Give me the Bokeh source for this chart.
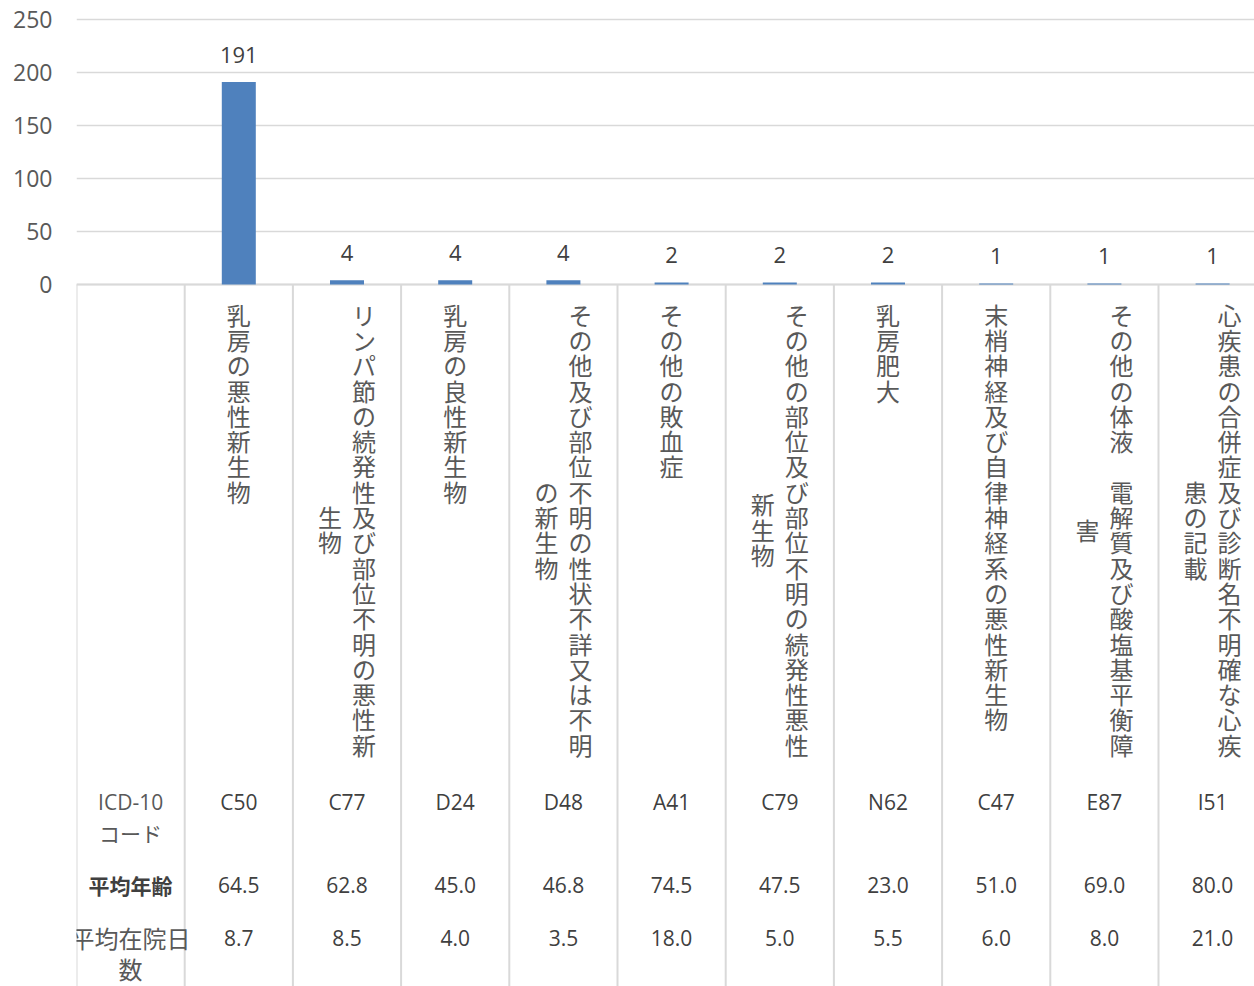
from bokeh.plotting import figure
from bokeh.models import Range1d, FixedTicker, ColumnDataSource
from bokeh.embed import file_html
from bokeh.resources import INLINE
from bokeh.core.properties import value

# ---------------- data ----------------
codes = ["C50", "C77", "D24", "D48", "A41", "C79", "N62", "C47", "E87", "I51"]
counts = [191, 4, 4, 4, 2, 2, 2, 1, 1, 1]
avg_age = [64.5, 62.8, 45.0, 46.8, 74.5, 47.5, 23.0, 51.0, 69.0, 80.0]
avg_days = [8.7, 8.5, 4.0, 3.5, 18.0, 5.0, 5.5, 6.0, 8.0, 21.0]
names = [
    "乳房の悪性新生物",
    "リンパ節の続発性及び部位不明の悪性新生物",
    "乳房の良性新生物",
    "その他及び部位不明の性状不詳又は不明の新生物",
    "その他の敗血症",
    "その他の部位及び部位不明の続発性悪性新生物",
    "乳房肥大",
    "末梢神経及び自律神経系の悪性新生物",
    "その他の体液　電解質及び酸塩基平衡障害",
    "心疾患の合併症及び診断名不明確な心疾患の記載",
]
y_ticks = [0, 50, 100, 150, 200, 250]
row_labels = ["ICD-10\nコード", "平均年齢", "平均在院日\n数"]

# ---------------- layout ----------------
W, H = 1254, 986
LEFT = 76
COL_PX = 108.2
PX_PER_UNIT = 265 / 250
ZERO_PX = 284
X_END = (W - LEFT) / COL_PX
Y_END = ZERO_PX / PX_PER_UNIT
Y_START = -(H - ZERO_PX) / PX_PER_UNIT

GRAY = "#d9d9d9"
TXT = "#595959"
VAL = "#404040"
JP = value("Noto Sans CJK JP")
NUM = value("Open Sans")

p = figure(width=W, height=H, x_range=Range1d(0, X_END), y_range=Range1d(Y_START, Y_END),
           output_backend="svg", toolbar_location=None, x_axis_location=None,
           min_border_left=LEFT, min_border_right=0, min_border_top=0, min_border_bottom=0)
p.outline_line_color = None
p.background_fill_color = "white"
p.border_fill_color = "white"

p.yaxis.ticker = FixedTicker(ticks=y_ticks)
p.yaxis.axis_line_color = None
p.yaxis.major_tick_line_color = None
p.yaxis.minor_tick_line_color = None
p.yaxis.major_label_standoff = 18
p.yaxis.major_label_text_font = "Open Sans"
p.yaxis.major_label_text_font_size = "23px"
p.yaxis.major_label_text_color = TXT
p.xgrid.visible = False
p.ygrid.ticker = FixedTicker(ticks=y_ticks)
p.ygrid.grid_line_color = GRAY
p.ygrid.grid_line_width = 1.5

n = len(codes)
xs = [i + 1.5 for i in range(n)]

# table vertical lines
cols = list(range(0, n + 1))
p.segment(x0=cols, y0=[0] * len(cols), x1=cols, y1=[Y_START] * len(cols),
          line_color=GRAY, line_width=2)
p.segment(x0=[0], y0=[0], x1=[X_END], y1=[0], line_color=GRAY, line_width=2)

# bars
src = ColumnDataSource(dict(x=xs, top=counts, lab=[str(c) for c in counts]))
p.vbar(x="x", top="top", bottom=0, width=34 / COL_PX, source=src,
       fill_color="#4f81bd", line_color=None)
p.text(x="x", y="top", text="lab", source=src, y_offset=-27,
       text_align="center", text_baseline="middle",
       text_font=NUM, text_font_size="22px", text_color=VAL)

# vertical category names (stacked characters)
PITCH = 25.3
TOP = 17
LINE_SEP = 34
MAXC = 18
cx, cy, cxo, cyo, ch = [], [], [], [], []
for i, name in enumerate(names):
    lines = [name[k:k + MAXC] for k in range(0, len(name), MAXC)]
    nl = len(lines)
    center = TOP + len(lines[0]) * PITCH / 2
    for j, line in enumerate(lines):
        xo = (nl - 1) * LINE_SEP / 2 - j * LINE_SEP
        for k, c in enumerate(line):
            cx.append(xs[i]); cy.append(0)
            cxo.append(xo)
            cyo.append(center + (k - (len(line) - 1) / 2) * PITCH)
            ch.append(c)
p.text(x="x", y="y", text="t", x_offset="xo", y_offset="yo",
       source=ColumnDataSource(dict(x=cx, y=cy, xo=cxo, yo=cyo, t=ch)),
       text_align="center", text_baseline="middle",
       text_font=JP, text_font_size="24px", text_color=TXT)

# table rows
ROW_Y = [517, 600, 653]
rows = [codes, [f"{v:.1f}" for v in avg_age], [f"{v:.1f}" for v in avg_days]]
for r, vals in enumerate(rows):
    p.text(x=xs, y=[0] * n, text=vals, y_offset=ROW_Y[r],
           text_align="center", text_baseline="middle",
           text_font=NUM, text_font_size="21px", text_color=VAL)

# row labels
lab_styles = [("21px", "normal", TXT), ("21px", "bold", VAL), ("24px", "normal", TXT)]
for r, lab in enumerate(row_labels):
    parts = lab.split("\n")
    fs, st, col = lab_styles[r]
    for k, part in enumerate(parts):
        font = NUM if part.isascii() else JP
        p.text(x=[0.5], y=[0], text=[part], y_offset=ROW_Y[r] + k * 31,
               text_align="center", text_baseline="middle",
               text_font=font, text_font_size=fs, text_font_style=st, text_color=col)

open("out.html", "w").write(file_html(p, INLINE))
